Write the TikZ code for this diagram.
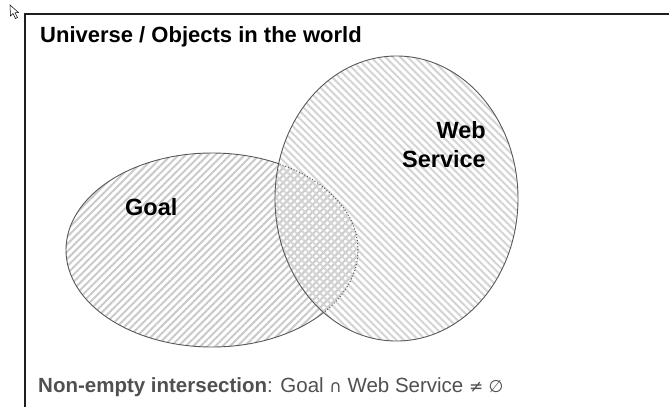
\documentclass[tikz,border=0pt]{standalone}
\usepackage{fontspec}
\setmainfont{Liberation Sans}
\newfontfamily\symfont{DejaVu Sans}
\usetikzlibrary{patterns.meta}
\definecolor{framecol}{HTML}{1E1E1E}
\definecolor{edgecol}{HTML}{585858}
\definecolor{hatchA}{HTML}{CACACA}
\definecolor{hatchB}{HTML}{D4D4D4}
\definecolor{notecol}{HTML}{505050}
\tikzset{
  frameline/.style={draw=framecol, line width=2pt},
  edge/.style={draw=edgecol, line width=0.9pt},
  hiddenedge/.style={draw=edgecol, line width=1pt, dotted},
  goalfill/.style={pattern={Lines[angle=45,distance=5.2pt,line width=2pt]}, pattern color=hatchA},
  wsfill/.style={pattern={Lines[angle=-45,distance=5.2pt,line width=2pt]}, pattern color=hatchB},
  bigtext/.style={font=\fontsize{23.5}{28}\selectfont\bfseries, inner sep=0pt},
  titletext/.style={font=\fontsize{22}{26}\selectfont\bfseries, inner sep=0pt, anchor=base west},
}
\begin{document}
\begin{tikzpicture}[x=1pt,y=-1pt]
\useasboundingbox (0,0) rectangle (669,407);
% frame
\coordinate (fTL) at (24.5,13.5);
\coordinate (fTR) at (669,13.5);
\coordinate (fBL) at (24.5,407);
\draw[frameline] (fTR) -- (fTL) -- (fBL);
% cursor
\draw[black, line width=0.5pt, fill=white] (10,5) -- (10.5,16) -- (13,13.5) -- (15.5,18.5) -- (17.5,17.5) -- (15,12.8) -- (18.5,12.5) -- cycle;
% hatch fills
\path[goalfill] (212,250) ellipse [x radius=146pt, y radius=97pt];
\path[wsfill] (396.5,198.5) ellipse [x radius=121.5pt, y radius=142.5pt];
% goal outline outside web service
\begin{scope}[even odd rule]
  \clip (0,0) rectangle (669,407) (396.5,198.5) ellipse [x radius=121.5pt, y radius=142.5pt];
  \draw[edge] (212,250) ellipse [x radius=146pt, y radius=97pt];
\end{scope}
% goal outline inside web service (dotted)
\begin{scope}
  \clip (396.5,198.5) ellipse [x radius=121.5pt, y radius=142.5pt];
  \draw[hiddenedge] (212,250) ellipse [x radius=146pt, y radius=97pt];
\end{scope}
% web service outline
\draw[edge] (396.5,198.5) ellipse [x radius=121.5pt, y radius=142.5pt];
% texts
\node[titletext] (title) at (40,42) {Universe / Objects in the world};
\node[bigtext, anchor=base west] (goal) at (125,215) {Goal};
\node[bigtext, anchor=base east] (web) at (486,138) {Web};
\node[bigtext, anchor=base east] (service) at (486,167) {Service};
\node[font=\fontsize{20.5}{24}\selectfont, text=notecol, inner sep=0pt, anchor=base west] (note) at (38,392)
  {\textbf{Non-empty intersection}: Goal {\symfont\fontsize{17}{20}\selectfont ∩} Web Service {\symfont\fontsize{17}{20}\selectfont ≠ ∅}};
\end{tikzpicture}
\end{document}
